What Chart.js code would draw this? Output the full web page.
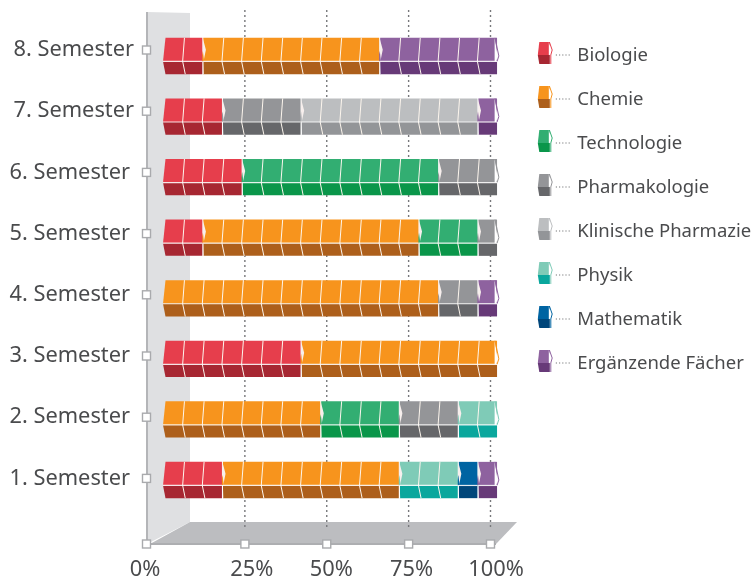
<!DOCTYPE html>
<html>
<head>
<meta charset="utf-8">
<script src="https://cdn.jsdelivr.net/npm/chart.js@4"></script>
<style>
html, body { margin: 0; padding: 0; background: #fff; }
canvas { display: block; }
</style>
</head>
<body>
<canvas id="semesterChart" width="755" height="577"></canvas>
<script>
const semesters = ['8. Semester', '7. Semester', '6. Semester', '5. Semester', '4. Semester', '3. Semester', '2. Semester', '1. Semester'];
const xTicks = [0, 25, 50, 75, 100];

const biologie = [12, 18, 24, 12, 0, 42, 0, 18];
const chemie = [54, 0, 0, 66, 84, 60, 48, 54];
const technologie = [0, 0, 60, 18, 0, 0, 24, 0];
const pharmakologie = [0, 24, 18, 6, 12, 0, 18, 0];
const klinischePharmazie = [0, 54, 0, 0, 0, 0, 0, 0];
const physik = [0, 0, 0, 0, 0, 0, 12, 18];
const mathematik = [0, 0, 0, 0, 0, 0, 0, 6];
const ergaenzend = [36, 6, 0, 0, 6, 0, 0, 6];

// one block of a bar stands for 6 percent
const blockSize = 6;

const topColors = ['#e63e4c', '#f7941d', '#32ae72', '#949598', '#bcbec0', '#7fcbb7', '#0064a2', '#8e629f'];
const lowColors = ['#a72732', '#ad5f1b', '#0a964a', '#66676a', '#939598', '#0aa79d', '#00467a', '#673a78'];

function makeDataset(label, data, i) {
    return { label: label, data: data, backgroundColor: topColors[i], borderWidth: 0, clip: false };
}

function fillPoly(ctx, color, pts) {
    ctx.fillStyle = color;
    ctx.beginPath();
    ctx.moveTo(pts[0][0], pts[0][1]);
    for (let i = 1; i < pts.length; i++) ctx.lineTo(pts[i][0], pts[i][1]);
    ctx.closePath();
    ctx.fill();
}

function strokeLine(ctx, color, width, pts) {
    ctx.strokeStyle = color;
    ctx.lineWidth = width;
    ctx.beginPath();
    ctx.moveTo(pts[0][0], pts[0][1]);
    for (let i = 1; i < pts.length; i++) ctx.lineTo(pts[i][0], pts[i][1]);
    ctx.stroke();
}

function drawSquare(ctx, x, y) {
    ctx.fillStyle = '#ffffff';
    ctx.strokeStyle = '#a9aaad';
    ctx.lineWidth = 1.4;
    ctx.fillRect(x - 4, y - 4, 8, 8);
    ctx.strokeRect(x - 4, y - 4, 8, 8);
}

// the bars are drawn as prisms from the geometry the bar elements got from the scales
function drawSegment(ctx, bar, dsIndex, rowIndex, chart) {
    const xs = chart.scales.x;
    const p = bar.getProps(['x', 'y', 'base', 'height'], true);
    const x0 = p.base, x1 = p.x;
    const top = p.y - p.height / 2, bottom = p.y + p.height / 2;
    const mid = top + p.height * 0.65;
    const unit = xs.getPixelForValue(blockSize) - xs.getPixelForValue(0);
    const first = Math.abs(x0 - xs.getPixelForValue(0)) < 0.5;
    let last = true;
    chart.data.datasets.forEach(function (ds, j) {
        if (j > dsIndex && ds.data[rowIndex] > 0) last = false;
    });
    const leftTop = first ? x0 + 2.5 : x0 + 1;
    const leftMid = first ? x0 : x0 + 1;
    fillPoly(ctx, topColors[dsIndex], [[leftTop, top], [x1, top], [x1, mid], [leftMid, mid]]);
    fillPoly(ctx, lowColors[dsIndex], [[leftMid, mid], [x1, mid], [x1, bottom], [leftTop, bottom]]);

    ctx.lineJoin = 'miter';
    const n = Math.round((x1 - x0) / unit);
    for (let k = 1; k < n; k++) {
        const x = x0 + k * unit;
        strokeLine(ctx, '#fdf6ee', 1, [[x + 1.8, top], [x, mid], [x + 2.6, bottom]]);
    }
    // left end of a new colour shows the pointed end of the prism
    if (!first) {
        fillPoly(ctx, '#f7efed', [[x0 + 0.4, top], [x0 + 3.6, top + p.height * 0.33], [x0 + 1.2, mid], [x0 - 2.6, mid], [x0 + 0.2, top + p.height * 0.33]]);
        fillPoly(ctx, topColors[dsIndex], [[x0 - 1.6, mid - 0.5], [x0 + 0.6, top + p.height * 0.36], [x0 + 1.8, mid - 0.5]]);
        strokeLine(ctx, '#ffffff', 1.1, [[x0 + 0.4, mid], [x0 + 0.8, bottom]]);
    }
    if (last) {
        fillPoly(ctx, '#ffffff', [[x1 - 2.4, top], [x1 + 0.6, top + p.height * 0.5], [x1 - 0.6, mid], [x1 - 2.4, mid]]);
        strokeLine(ctx, topColors[dsIndex], 1, [[x1 - 2, top], [x1 + 1.8, top + p.height * 0.5], [x1, mid]]);
    }
    strokeLine(ctx, 'rgba(255,255,255,0.85)', 1.2, [[leftMid, mid], [x1, mid]]);
}

function drawLegendKey(ctx, i, box) {
    const cy = box.top + box.height / 2;
    const x = box.left + 30.7;
    const t = cy - 14, m = cy - 1, b = cy + 8;
    fillPoly(ctx, topColors[i], [[x + 1.5, t], [x + 12, t], [x + 12, m], [x, m]]);
    fillPoly(ctx, lowColors[i], [[x, m], [x + 12, m], [x + 12, b], [x + 1.5, b]]);
    fillPoly(ctx, '#ffffff', [[x + 11, t], [x + 13.4, t + 8], [x + 12, m], [x + 11, m]]);
    strokeLine(ctx, topColors[i], 1, [[x + 11.6, t], [x + 14.4, t + 8], [x + 13, m], [x + 13, b]]);
    ctx.save();
    ctx.setLineDash([1.2, 2]);
    strokeLine(ctx, '#77787b', 1.1, [[x + 18, cy - 1], [x + 34, cy - 1]]);
    ctx.restore();
}

const prismPlugin = {
    id: 'prism',
    beforeDraw: function (chart) {
        const xs = chart.scales.x, ys = chart.scales.y, ctx = chart.ctx;
        // the tick labels sit on the front plane, not on the bars
        ys.getLabelItems().forEach(function (item, i) {
            item.options.translation[0] = i < 2 ? 134 : 130;
            item.options.translation[1] = 50 + 61.2 * i;
        });
        const shift = [-18, 7, 4.5, 3, 5.5];
        xs.getLabelItems().forEach(function (item, i) {
            item.options.translation[0] = xs.getPixelForValue(xTicks[i]) + shift[i];
        });
        // wall and floor
        fillPoly(ctx, '#dfe0e2', [[147, 12], [190, 13], [190, 522], [147, 544]]);
        fillPoly(ctx, '#bcbdc0', [[150, 544], [190, 522], [517, 522], [496, 544]]);
        strokeLine(ctx, '#b4b5b8', 2, [[147, 12], [147, 544]]);
        strokeLine(ctx, '#adaeb1', 2, [[147, 544], [496, 544]]);
        // dotted grid, longer than the plot area
        ctx.save();
        ctx.setLineDash([2, 3]);
        xTicks.slice(1).forEach(function (v) {
            const x = xs.getPixelForValue(v);
            strokeLine(ctx, '#77787b', 1.4, [[x, 10], [x, 528]]);
        });
        ctx.restore();
    },
    beforeDatasetDraw: function (chart, args) {
        const ctx = chart.ctx;
        ctx.save();
        args.meta.data.forEach(function (bar, row) {
            if (chart.data.datasets[args.index].data[row] > 0) {
                drawSegment(ctx, bar, args.index, row, chart);
            }
        });
        ctx.restore();
        return false;
    },
    afterDraw: function (chart) {
        const xs = chart.scales.x, ctx = chart.ctx;
        semesters.forEach(function (s, i) {
            drawSquare(ctx, 146.5, 50 + 61.2 * i);
        });
        drawSquare(ctx, 146.5, 544);
        xTicks.slice(1).forEach(function (v) {
            drawSquare(ctx, xs.getPixelForValue(v), 544);
        });
        chart.legend.legendHitBoxes.forEach(function (box, i) {
            drawLegendKey(ctx, i, box);
        });
    }
};

new Chart(document.getElementById('semesterChart'), {
    type: 'bar',
    data: {
        labels: semesters,
        datasets: [
            makeDataset('Biologie', biologie, 0),
            makeDataset('Chemie', chemie, 1),
            makeDataset('Technologie', technologie, 2),
            makeDataset('Pharmakologie', pharmakologie, 3),
            makeDataset('Klinische Pharmazie', klinischePharmazie, 4),
            makeDataset('Physik', physik, 5),
            makeDataset('Mathematik', mathematik, 6),
            makeDataset('Ergänzende Fächer', ergaenzend, 7)
        ]
    },
    options: {
        indexAxis: 'y',
        responsive: false,
        animation: false,
        devicePixelRatio: 1,
        barThickness: 36.3,
        layout: { autoPadding: false, padding: { top: 25.7, left: 0, right: 0.5, bottom: 0 } },
        scales: {
            x: {
                stacked: true,
                min: 0,
                max: 100,
                afterFit: function (scale) { scale.height = 66.7; },
                grid: { display: false },
                border: { display: false },
                afterBuildTicks: function (scale) {
                    scale.ticks = xTicks.map(function (v) { return { value: v }; });
                },
                ticks: {
                    padding: 38,
                    maxRotation: 0,
                    autoSkip: false,
                    color: '#4a4b4d',
                    font: { family: '"Noto Sans"', size: 21.8 },
                    callback: function (v) { return v + '%'; }
                }
            },
            y: {
                stacked: true,
                afterFit: function (scale) { scale.width = 163; },
                grid: { display: false },
                border: { display: false },
                ticks: {
                    padding: 12,
                    autoSkip: false,
                    color: '#4a4b4d',
                    font: { family: '"Noto Sans"', size: 21.8 }
                }
            }
        },
        plugins: {
            tooltip: { enabled: false },
            legend: {
                position: 'right',
                align: 'start',
                maxWidth: 264,
                labels: {
                    boxWidth: 61,
                    boxHeight: 27.4,
                    padding: 16.6,
                    color: '#4a4b4d',
                    font: { family: '"Noto Sans"', size: 18.5 },
                    generateLabels: function (chart) {
                        return chart.data.datasets.map(function (ds, i) {
                            return { text: ds.label, datasetIndex: i, fontColor: '#4a4b4d', fillStyle: 'rgba(0,0,0,0)', strokeStyle: 'rgba(0,0,0,0)', lineWidth: 0 };
                        });
                    }
                }
            }
        }
    },
    plugins: [prismPlugin]
});
</script>
</body>
</html>
